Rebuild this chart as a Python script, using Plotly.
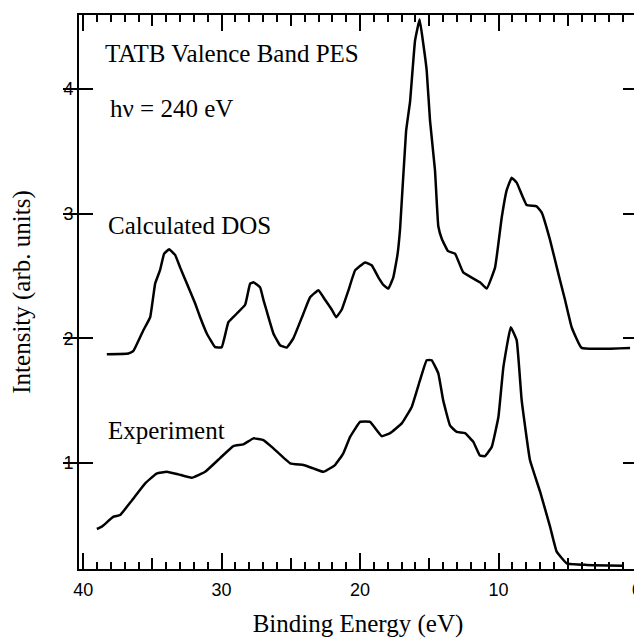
import plotly.graph_objects as go

# Calculated DOS (binding energy eV, intensity)
dos_energy = [38.29, 36.73, 36.37, 35.65, 35.16, 34.80, 34.44, 34.15, 33.79, 33.36,
              33.00, 32.51, 31.91, 31.55, 31.07, 30.47, 29.99, 29.51, 28.90, 28.30,
              27.94, 27.70, 27.22, 26.98, 26.77, 26.26, 25.78, 25.29, 24.82, 24.09,
              23.61, 23.01, 22.53, 22.04, 21.73, 21.33, 20.84, 20.36, 19.64, 19.16,
              18.68, 18.32, 17.96, 17.60, 17.30, 17.11, 16.68, 16.39, 16.03, 15.70,
              15.43, 15.19, 14.95, 14.59, 14.35, 14.10, 13.65, 13.14, 12.55, 11.34,
              10.85, 10.25, 9.77, 9.41, 9.05, 8.69, 7.97, 7.25, 6.88, 6.28,
              5.68, 5.20, 4.72, 4.00, 0.50]
dos_intensity = [1.873, 1.879, 1.90, 2.066, 2.17, 2.44, 2.55, 2.68, 2.715, 2.67,
                 2.57, 2.44, 2.28, 2.17, 2.04, 1.93, 1.93, 2.13, 2.20, 2.27,
                 2.44, 2.45, 2.41, 2.31, 2.23, 2.04, 1.945, 1.927, 2.00, 2.20,
                 2.33, 2.386, 2.31, 2.23, 2.17, 2.23, 2.386, 2.546, 2.61, 2.587,
                 2.49, 2.43, 2.40, 2.49, 2.67, 2.88, 3.66, 3.90, 4.39, 4.56,
                 4.36, 4.15, 3.75, 3.35, 2.90, 2.80, 2.70, 2.68, 2.53, 2.45,
                 2.40, 2.57, 2.97, 3.19, 3.29, 3.25, 3.07, 3.06, 3.01, 2.79,
                 2.52, 2.31, 2.09, 1.924, 1.924]

# Experiment
exp_energy = [39.01, 38.65, 37.81, 37.33, 36.48, 35.52, 34.68, 33.96, 33.12, 32.16,
              31.19, 30.11, 29.15, 28.43, 27.70, 26.98, 26.26, 25.05, 24.09, 23.37,
              22.65, 21.81, 21.21, 20.72, 20.00, 19.28, 18.44, 17.83, 16.99, 16.27,
              15.67, 15.19, 14.83, 14.35, 14.00, 13.50, 13.02, 12.42, 11.82, 11.34,
              10.97, 10.49, 10.01, 9.65, 9.12, 8.69, 8.33, 7.73, 7.00, 6.28,
              5.80, 5.08, 3.64, 1.01]
exp_intensity = [0.471, 0.49, 0.57, 0.583, 0.70, 0.837, 0.917, 0.93, 0.909, 0.882,
                 0.93, 1.04, 1.136, 1.15, 1.198, 1.184, 1.118, 0.998, 0.984, 0.957,
                 0.93, 0.984, 1.078, 1.21, 1.33, 1.33, 1.216, 1.24, 1.318, 1.45,
                 1.665, 1.825, 1.825, 1.72, 1.505, 1.30, 1.25, 1.24, 1.17, 1.06,
                 1.056, 1.13, 1.37, 1.77, 2.09, 1.986, 1.505, 1.024, 0.77, 0.49,
                 0.289, 0.196, 0.183, 0.177]

x_major_ticks = [0, 10, 20, 30, 40]
x_mid_ticks = [5, 15, 25, 35]
y_major_ticks = [1, 2, 3, 4]

x_range = [40.3, 0]
y_range = [0.15, 4.595]

serif = "Liberation Serif, Times New Roman, serif"
sans = "Liberation Sans, Arial, sans-serif"

fig = go.Figure()
for xs, ys in [(dos_energy, dos_intensity), (exp_energy, exp_intensity)]:
    fig.add_trace(go.Scatter(x=xs, y=ys, mode="lines",
                             line=dict(color="black", width=2.5, shape="spline", smoothing=0.3),
                             showlegend=False, hoverinfo="skip"))

# the page body adds an 8px offset, so margins compensate for it
fig.update_layout(
    width=642, height=640,
    margin=dict(l=71, r=13, t=7, b=79),
    paper_bgcolor="white", plot_bgcolor="white",
    showlegend=False,
    xaxis=dict(range=x_range, tickvals=x_major_ticks, ticks="inside", ticklen=16,
               tickwidth=2, tickcolor="black", showline=True, linecolor="black",
               linewidth=2, mirror="allticks", showgrid=False, zeroline=False,
               automargin=False, ticklabelstandoff=3,
               tickfont=dict(family=sans, size=18, color="black"),
               minor=dict(dtick=1, ticks="inside", ticklen=7, tickwidth=1.5,
                          tickcolor="black", showgrid=False),
               title=dict(text="Binding Energy (eV)", font=dict(family=serif, size=25, color="black"),
                          standoff=16)),
    xaxis2=dict(range=x_range, overlaying="x", tickvals=x_mid_ticks, ticks="inside",
                ticklen=11, tickwidth=1.5, tickcolor="black", mirror="allticks",
                showticklabels=False, showline=False, showgrid=False, zeroline=False,
                automargin=False, anchor="y"),
    yaxis=dict(range=y_range, tickvals=y_major_ticks, ticks="inside", ticklen=14,
               tickwidth=2, tickcolor="black", showline=True, linecolor="black",
               linewidth=2, mirror="allticks", showgrid=False, zeroline=False,
               automargin=False,
               tickfont=dict(family=sans, size=18, color="black"),
               title=dict(text="Intensity (arb. units)", font=dict(family=serif, size=25, color="black"),
                          standoff=28)),
)
# dummy trace to activate xaxis2
fig.add_trace(go.Scatter(x=[None], y=[None], xaxis="x2", yaxis="y", showlegend=False,
                         hoverinfo="skip"))

labels = [("TATB Valence Band PES", 0.043, 0.931),
          ("hν = 240 eV", 0.052, 0.832),
          ("Calculated DOS", 0.048, 0.620),
          ("Experiment", 0.048, 0.250)]
for text, px, py in labels:
    fig.add_annotation(text=text, xref="paper", yref="paper", x=px, y=py,
                       xanchor="left", yanchor="middle", showarrow=False,
                       font=dict(family=serif, size=25, color="black"))

fig.write_html("out.html")
